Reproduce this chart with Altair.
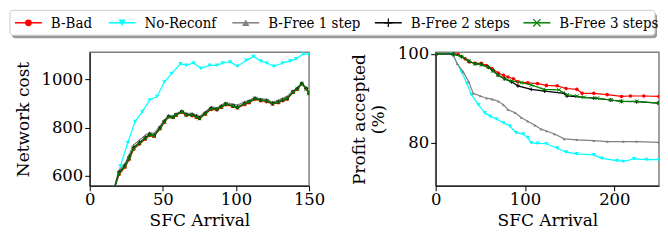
import altair as alt
import pandas as pd

NAMES = ["B-Bad", "No-Reconf", "B-Free 1 step", "B-Free 2 steps", "B-Free 3 steps"]
COLORS = ["#ff0000", "#00ffff", "#808080", "#000000", "#008000"]
SHAPES = ["circle", "triangle-down", "triangle-up", "M-1,0L1,0M0,-1L0,1", "M-1,-1L1,1M-1,1L1,-1"]
FILLED = [True, True, True, False, False]

# ---------------- left panel: Network cost ----------------
L_X = [17, 20, 24, 27, 30, 34, 38, 41, 44, 48, 51, 54, 57, 59, 63, 66, 70, 73, 75, 79,
       83, 87, 90, 93, 98, 101, 106, 109, 113, 117, 121, 125, 129, 132, 135, 139, 142, 145, 148, 150]
L_BBAD = [548, 605, 635, 668, 710, 732, 752, 768, 764, 795, 822, 845, 842, 852, 864, 852, 850, 842, 838, 856,
          876, 874, 884, 895, 888, 882, 896, 904, 918, 912, 908, 898, 904, 912, 918, 946, 960, 982, 962, 942]
L_FREE1 = [556, 622, 650, 688, 728, 748, 768, 780, 776, 806, 832, 850, 848, 858, 870, 860, 860, 852, 846, 866,
           886, 882, 894, 904, 898, 894, 908, 914, 926, 920, 918, 906, 914, 922, 930, 954, 966, 986, 966, 946]
L_FREE2 = [552, 614, 641, 676, 717, 737, 758, 772, 767, 799, 826, 847, 844, 854, 867, 854, 854, 847, 840, 860,
           881, 877, 888, 899, 891, 885, 901, 908, 922, 915, 912, 901, 908, 915, 922, 949, 963, 984, 963, 943]
L_FREE3 = [550, 610, 638, 672, 714, 735, 755, 770, 765, 797, 824, 846, 843, 853, 866, 853, 852, 845, 838, 858,
           879, 876, 886, 898, 890, 884, 900, 907, 921, 914, 911, 900, 907, 914, 921, 948, 962, 983, 962, 942]
L_X_NORECONF = [17, 21, 26, 31, 36, 41, 46, 51, 56, 62, 66, 71, 76, 82, 87, 91, 96, 101, 107, 112,
                117, 121, 126, 132, 137, 141, 146, 150]
L_NORECONF = [552, 641, 737, 825, 867, 915, 929, 990, 1025, 1066, 1059, 1069, 1047, 1059, 1059, 1069, 1073,
              1055, 1080, 1096, 1077, 1069, 1055, 1069, 1077, 1086, 1107, 1104]

# ---------------- right panel: Profit accepted (%) ----------------
R_X_BBAD = [0, 20, 25, 33, 38, 44, 51, 57, 63, 70, 76, 81, 87, 92, 103, 114, 124, 136, 146, 158, 164, 177,
            192, 208, 218, 233, 250]
R_BBAD = [100, 100, 99.9, 98.9, 98.2, 97.9, 97.9, 97.4, 96.7, 95.7, 95.2, 94.8, 94.4, 93.7, 93.5, 93.3, 92.9,
          92.8, 92.2, 92.0, 91.1, 91.1, 90.8, 90.4, 90.5, 90.5, 90.4]
R_X_NORECONF = [0, 18, 20, 29, 35, 40, 48, 55, 61, 68, 76, 83, 90, 98, 103, 107, 114, 124, 136, 146, 158,
                177, 186, 203, 210, 222, 236, 250]
R_NORECONF = [100, 100, 99.6, 95.9, 93.3, 90.8, 88.5, 86.7, 85.9, 85.3, 84.4, 83.7, 82.2, 81.9, 81.1, 79.9,
              79.8, 79.7, 78.7, 77.8, 77.4, 77.2, 76.4, 75.9, 75.7, 76.3, 76.1, 76.1]
R_X_FREE1 = [0, 18, 20, 24, 31, 37, 42, 50, 57, 63, 70, 76, 81, 89, 96, 103, 111, 118, 124, 133, 144, 158,
             177, 192, 210, 225, 250]
R_FREE1 = [100, 100, 99.6, 97.8, 95.9, 93.7, 91.1, 90.5, 90.0, 89.8, 89.3, 88.5, 87.4, 86.7, 85.6, 84.8, 83.9,
           83.0, 82.6, 81.9, 80.8, 80.6, 80.4, 80.2, 80.2, 80.2, 80.0]
R_X_FREE2 = [0, 20, 29, 37, 44, 51, 59, 64, 70, 77, 85, 92, 107, 122, 144, 147, 177, 196, 208, 225, 250]
R_FREE2 = [100, 100, 99.4, 98.4, 97.8, 97.6, 97.0, 96.2, 95.2, 94.4, 93.7, 92.8, 92.0, 91.6, 91.1, 90.5, 90.0,
           89.6, 89.3, 89.2, 88.9]
R_X_FREE3 = [0, 20, 29, 37, 44, 51, 59, 64, 70, 77, 85, 96, 107, 121, 138, 147, 158, 166, 181, 196, 208, 225, 250]
R_FREE3 = [100, 100, 99.4, 98.4, 97.8, 97.6, 97.0, 96.2, 95.2, 94.4, 93.9, 93.5, 93.0, 92.0, 91.9, 90.8, 90.5,
           90.2, 90.0, 89.6, 89.3, 89.3, 88.9]

FONT = "DejaVu Serif"
LEGEND_FONT = "DejaVu Serif Condensed, DejaVu Serif"
PLOT_MARK_SIZE = [13, 18, 9, 14, 14]

# legend layout (pixels relative to the left plot's origin)
LEG_BOX = (-80, 567, -42, -17)
LEG_X0 = [-75, 19, 143, 286, 435]
LEG_MARK_SIZE = [45, 55, 55, 70, 55]
LINE_LEN = 27


def legend_layers():
    one = pd.DataFrame({"a": [0]})
    x1, x2, y1, y2 = LEG_BOX
    ymid = (y1 + y2) / 2
    layers = [
        alt.Chart(one).mark_rect(fill="#9a9a9a", cornerRadius=3, clip=False).encode(
            x=alt.value(x1 + 2), x2=alt.value(x2 + 2), y=alt.value(y1 + 3), y2=alt.value(y2 + 3)),
        alt.Chart(one).mark_rect(fill="white", stroke="#cccccc", strokeWidth=1, cornerRadius=3,
                                 clip=False).encode(
            x=alt.value(x1), x2=alt.value(x2), y=alt.value(y1), y2=alt.value(y2)),
    ]
    for i, name in enumerate(NAMES):
        x0 = LEG_X0[i]
        layers.append(alt.Chart(one).mark_rule(color=COLORS[i], strokeWidth=1.5).encode(
            x=alt.value(x0), x2=alt.value(x0 + LINE_LEN), y=alt.value(ymid)))
        layers.append(alt.Chart(one).mark_point(shape=SHAPES[i], filled=FILLED[i], color=COLORS[i],
                                                size=LEG_MARK_SIZE[i], strokeWidth=1.2, opacity=1).encode(
            x=alt.value(x0 + LINE_LEN / 2), y=alt.value(ymid)))
        layers.append(alt.Chart(one).mark_text(align="left", baseline="middle", font=LEGEND_FONT,
                                               fontSize=15, color="black", text=name).encode(
            x=alt.value(x0 + LINE_LEN + 9), y=alt.value(ymid + 0.5)))
    return layers


def panel(series, xdom, xticks, ydom, yticks, ytitle, width, height, ytitle_pad, extra=()):
    x_enc = alt.X("x:Q", scale=alt.Scale(domain=xdom, nice=False, zero=False),
                  axis=alt.Axis(values=xticks, title="SFC Arrival", labelFlush=False, grid=False,
                                titlePadding=4, labelPadding=1, format="d"))
    y_enc = alt.Y("y:Q", scale=alt.Scale(domain=ydom, nice=False, zero=False),
                  axis=alt.Axis(values=yticks, title=ytitle, grid=False, titlePadding=ytitle_pad,
                                labelPadding=2, format="d"))
    layers = []
    for i, (xs, ys) in enumerate(series):
        df = pd.DataFrame({"x": xs, "y": ys})
        base = alt.Chart(df).encode(x=x_enc, y=y_enc)
        layers.append(base.mark_line(color=COLORS[i], strokeWidth=1.2, clip=True))
        layers.append(base.mark_point(shape=SHAPES[i], filled=FILLED[i], color=COLORS[i],
                                      size=PLOT_MARK_SIZE[i], strokeWidth=1, opacity=1, clip=True))
    layers.extend(extra)
    return alt.layer(*layers).properties(
        width=width, height=height,
        view=alt.ViewBackground(stroke="#808080", strokeWidth=1.5))


left = panel(
    [(L_X, L_BBAD), (L_X_NORECONF, L_NORECONF), (L_X, L_FREE1), (L_X, L_FREE2), (L_X, L_FREE3)],
    [0, 150], [0, 50, 100, 150], [558, 1114], [600, 800, 1000], "Network cost", 220, 134, 8,
    extra=legend_layers())

right = panel(
    [(R_X_BBAD, R_BBAD), (R_X_NORECONF, R_NORECONF), (R_X_FREE1, R_FREE1),
     (R_X_FREE2, R_FREE2), (R_X_FREE3, R_FREE3)],
    [0, 250], [0, 100, 200], [70.2, 100.4], [80, 100], ["Profit accepted", "(%)"], 224, 134, 10)

chart = alt.hconcat(left, right, spacing=127, bounds="flush").properties(padding=0).configure_view(
    strokeWidth=0).configure_axis(
    domainColor="black", tickColor="black", tickSize=5, domainWidth=1, tickWidth=1,
    labelFont=FONT, labelFontSize=16.5, labelColor="black",
    titleFont=FONT, titleFontSize=17, titleFontWeight="normal", titleColor="black",
).configure_text(font=FONT)

chart.save("out.html", embed_options={"renderer": "svg", "actions": False})
